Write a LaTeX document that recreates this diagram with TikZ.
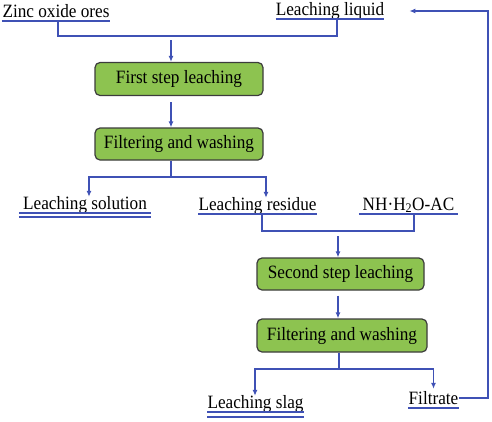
\documentclass[tikz,border=0pt]{standalone}
\usepackage{fontspec}
\setmainfont{Liberation Serif}[FakeStretch=0.915]
\usetikzlibrary{arrows.meta, positioning}

\definecolor{flowblue}{RGB}{63,81,181}
\definecolor{boxgreen}{RGB}{141,195,80}
\definecolor{boxline}{RGB}{60,60,60}

\tikzset{
    stepbox/.style={draw=boxline, line width=1.2pt, fill=boxgreen, rounded corners=5pt,
        minimum height=33pt, inner sep=0pt, font=\fontsize{18.8}{22}\selectfont},
    material/.style={anchor=base, inner xsep=0pt, inner ysep=1pt, text height=11pt,
        text depth=3pt, font=\fontsize{18.8}{22}\selectfont},
    flow/.style={draw=flowblue, line width=1.6pt},
    flowarrow/.style={flow, -{Latex[length=6pt,width=5pt]}},
}

\begin{document}
\begin{tikzpicture}[x=1pt,y=-1pt]

    \useasboundingbox (0,0) rectangle (492,421);

    % Materials
    \node[material, minimum width=108pt] (zinc) at (56,17) {Zinc oxide ores};
    \node[material, minimum width=108pt] (liquid) at (330,15) {Leaching liquid};
    \node[material, minimum width=132pt] (solution) at (85,209) {Leaching solution};
    \node[material, minimum width=117pt] (residue) at (257.5,210) {Leaching residue};
    \node[material, minimum width=99pt] (nhac) at (408.5,210) {NH·H\textsubscript{2}O-AC};
    \node[material, minimum width=95pt] (slag) at (255.5,408) {Leaching slag};
    \node[material, minimum width=51pt] (filtrate) at (433.5,404) {Filtrate};

    % Steps
    \node[stepbox, minimum width=168pt] (leach1) at (179,79) {First step leaching};
    \node[stepbox, minimum width=168pt, minimum height=32pt] (wash1) at (179,144) {Filtering and washing};
    \node[stepbox, minimum width=167pt, minimum height=32pt] (leach2) at (340.5,274) {Second step leaching};
    \node[stepbox, minimum width=170pt] (wash2) at (342,335.5) {Filtering and washing};

    % ================================
    % Underlines

    \draw[flow] (zinc.south west) -- (zinc.south east);
    \draw[flow] (liquid.south west) -- (liquid.south east);
    \draw[flow] (solution.south west) -- (solution.south east);
    \draw[flow] ([yshift=-4pt]solution.south west) -- ([yshift=-4pt]solution.south east);
    \draw[flow] (residue.south west) -- (residue.south east);
    \draw[flow] (nhac.south west) -- (nhac.south east);
    \draw[flow] (slag.south west) -- (slag.south east);
    \draw[flow] ([yshift=-5pt]slag.south west) -- ([yshift=-5pt]slag.south east);
    \draw[flow] (filtrate.south west) -- (filtrate.south east);

    % ================================
    % Connectors

    \coordinate (merge1) at (171,36);
    \coordinate (split1) at (171,177);
    \coordinate (merge2) at (338,231);
    \coordinate (split2) at (339,369);
    \coordinate (back) at (488,11);

    % first step
    \draw[flow] ([xshift=2pt]zinc.south) |- (merge1) -| ([xshift=7pt]liquid.south);
    \draw[flowarrow] ([yshift=-4pt]merge1) -- (leach1.north -| merge1);
    \draw[flowarrow] ([yshift=-6pt]leach1.south -| merge1) -- (wash1.north -| merge1);
    \draw[flow] (wash1.south -| split1) -- (split1);
    \draw[flowarrow] (split1) -| ([xshift=4pt]solution.north);
    \draw[flowarrow] (split1) -| ([xshift=8.5pt]residue.north);

    % second step
    \draw[flow] ([xshift=4.5pt]residue.south) |- (merge2) -| ([xshift=5.5pt]nhac.south);
    \draw[flowarrow] ([yshift=-5pt]merge2) -- (leach2.north -| merge2);
    \draw[flowarrow] ([yshift=-5pt]leach2.south -| merge2) -- (wash2.north -| merge2);
    \draw[flow] (wash2.south -| split2) -- (split2);
    \draw[flowarrow] (split2) -| ([xshift=-0.5pt]slag.north);
    \draw[flowarrow] (split2) -| ([yshift=3pt]filtrate.north);

    % return of filtrate
    \draw[flowarrow] ([yshift=2pt]filtrate.east) -| (back) -- ([xshift=25pt]liquid.east |- back);

\end{tikzpicture}
\end{document}
